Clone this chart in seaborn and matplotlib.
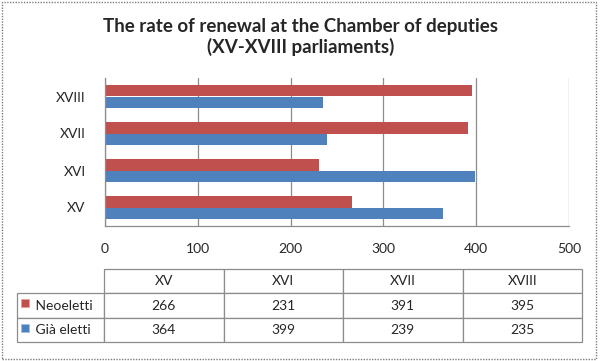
import numpy as np
import pandas as pd
import matplotlib
matplotlib.use('Agg')
import matplotlib.pyplot as plt
import seaborn as sns
from matplotlib.patches import Rectangle

# data
parliaments = ['XV', 'XVI', 'XVII', 'XVIII']
neoeletti = [266, 231, 391, 395]
gia_eletti = [364, 399, 239, 235]
series_names = ['Neoeletti', 'Già eletti']
colors = ['#C0504D', '#4F81BD']
xticks = [0, 100, 200, 300, 400, 500]

df = pd.DataFrame({'parliament': parliaments * 2,
                   'value': neoeletti + gia_eletti,
                   'series': [series_names[0]] * 4 + [series_names[1]] * 4})

sns.set_style('white')
plt.rcParams['font.family'] = ['Lato', 'DejaVu Sans']

W, H = 601, 361
fig = plt.figure(figsize=(W / 100, H / 100), dpi=100)

def px(x0, y0, x1, y1):
    # pixel box -> figure fraction rect
    return [x0 / W, 1 - y1 / H, (x1 - x0) / W, (y1 - y0) / H]

ax = fig.add_axes(px(105, 78, 569, 226))
sns.barplot(data=df, y='parliament', x='value', hue='series',
            order=parliaments[::-1], hue_order=series_names,
            palette=colors, saturation=1, width=0.6, orient='h', ax=ax,
            legend=False, linewidth=0)
ax.set_xlim(0, 500)
ax.set_xticks(xticks)
ax.set_xticklabels([str(t) for t in xticks])
ax.set_xlabel('')
ax.set_ylabel('')
ax.grid(axis='x', color='#8c8c8c', lw=0.9)
ax.set_axisbelow(True)
for s in ['top', 'right']:
    ax.spines[s].set_visible(False)
for s in ['left', 'bottom']:
    ax.spines[s].set_color('#8c8c8c')
    ax.spines[s].set_linewidth(0.9)
ax.tick_params(axis='x', labelsize=10, pad=12, colors='#262626', length=0)
ax.tick_params(axis='y', labelsize=10, pad=14, colors='#262626', length=0)

fig.text(0.5, 1 - 37 / H, 'The rate of renewal at the Chamber of deputies\n(XV-XVIII parliaments)',
         ha='center', va='center', fontsize=13.5, fontweight='bold', linespacing=1.25)

# data table under the chart
tax = fig.add_axes([0, 0, 1, 1])
tax.axis('off')
cells = [[''] + parliaments,
         ['     ' + series_names[0]] + [str(v) for v in neoeletti],
         ['     ' + series_names[1]] + [str(v) for v in gia_eletti]]
col_w = [87] + [119.5] * 4
tbl = tax.table(cellText=cells, colWidths=[c / sum(col_w) for c in col_w],
                cellLoc='center', bbox=px(17, 269, 582, 342))
tbl.auto_set_font_size(False)
tbl.set_fontsize(10)
for (r, c), cell in tbl.get_celld().items():
    cell.set_edgecolor('#8c8c8c')
    cell.set_linewidth(0.9)
    cell.get_text().set_color('#262626')
    if c == 0:
        cell.get_text().set_ha('left')
        cell.PAD = 0.01
tbl[0, 0].visible_edges = ''

# legend keys in the row labels
for i, col in enumerate(colors):
    y = 303 + i * 25
    tax.add_patch(Rectangle((21 / W, 1 - (y + 4) / H), 8 / W, 8 / H,
                            transform=fig.transFigure, fc=col, ec='#e8a0a0' if i == 0 else '#a0c0e8', lw=0.6))

fig.add_artist(Rectangle((1.5 / W, 1 - 359 / H), 594.5 / W, 357.5 / H, transform=fig.transFigure,
                         fill=False, ec='#7f7f7f', lw=1, ls=(0, (1, 1))))

fig.savefig('out.png', dpi=100)
